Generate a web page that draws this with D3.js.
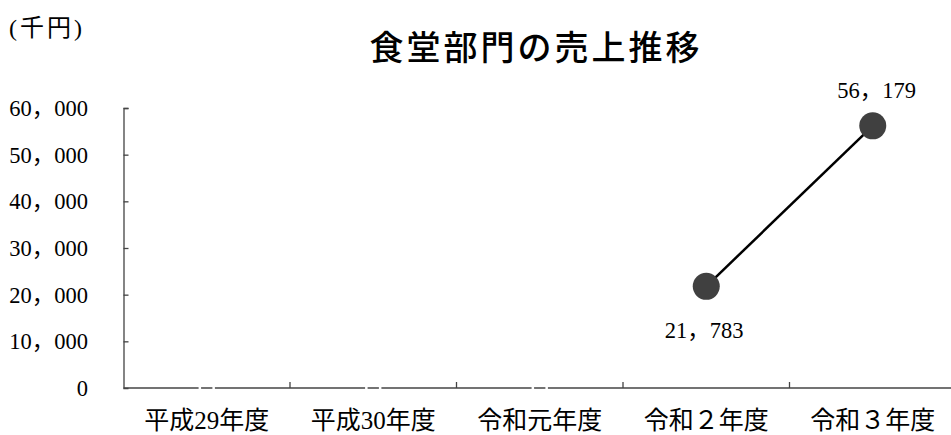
<!DOCTYPE html>
<html><head><meta charset="utf-8">
<script src="https://cdn.jsdelivr.net/npm/d3@7"></script>
<style>
body{margin:0;background:#fff;}
svg{display:block;}
text{fill:#000;}
</style></head>
<body>
<svg id="c" width="951" height="435"></svg>
<script>
const categories = ["平成29年度","平成30年度","令和元年度","令和２年度","令和３年度"];
const sales = [null, null, null, 21783, 56179];
const yTicks = [0,10000,20000,30000,40000,50000,60000];
const title = "食堂部門の売上推移";
const unitLabel = "(千円)";

const svg = d3.select("#c");
const serif = "'Liberation Serif','Noto Sans CJK JP',serif";
const cjk = "'Noto Sans CJK JP','Liberation Serif',sans-serif";
const fmt = v => d3.format(",")(v).replace(",", "，");

const x = d3.scaleBand().domain(categories).range([123.5, 956]);
const y = d3.scaleLinear().domain([0, 60000]).range([388, 108]);

// title & unit
svg.append("text").attr("x", 536).attr("y", 60).attr("text-anchor","middle")
  .style("font-family", cjk).style("font-size","34px").style("font-weight","500")
  .style("letter-spacing","3px").text(title);
svg.append("text").attr("x", 9).attr("y", 36)
  .style("font-family", serif).style("font-size","24px").style("letter-spacing","3px").text(unitLabel);

// y axis
const yAxis = svg.append("g").attr("transform","translate(123.5,0)")
  .call(d3.axisRight(y).tickValues(yTicks).tickSize(5).tickFormat(""));
yAxis.select(".domain").attr("stroke","#444").attr("stroke-width",1.3);
yAxis.selectAll(".tick line").attr("stroke","#444").attr("stroke-width",1.3);
yAxis.selectAll(".tick").filter(d => d === 0).remove();
svg.append("g").selectAll("text").data(yTicks).join("text")
  .attr("x", 88).attr("y", d => y(d)).attr("dy","0.36em").attr("text-anchor","end")
  .style("font-family", serif).style("font-size","22.5px").text(d => d === 0 ? "0" : fmt(d));

// x axis
svg.append("line").attr("x1", 123.5).attr("x2", 956).attr("y1", y(0)).attr("y2", y(0))
  .attr("stroke","#444").attr("stroke-width",1.4);
svg.append("g").selectAll("line").data(categories.slice(1)).join("line")
  .attr("x1", d => x(d)).attr("x2", d => x(d)).attr("y1", y(0)).attr("y2", y(0) - 6)
  .attr("stroke","#444").attr("stroke-width",1.3);
svg.append("g").selectAll("text").data(categories).join("text")
  .attr("x", d => x(d) + x.bandwidth()/2).attr("y", 429).attr("text-anchor","middle")
  .style("font-family", serif).style("font-size","25px").text(d => d);

// hidden (empty) markers
const pts = categories.map((c,i) => ({c, v: sales[i]}));
svg.append("g").selectAll("circle").data(pts.filter(p => p.v === null)).join("circle")
  .attr("cx", p => x(p.c) + x.bandwidth()/2).attr("cy", y(0)).attr("r", 7)
  .attr("fill","none").attr("stroke","#fff").attr("stroke-width",2.5);

// line
const valid = pts.filter(p => p.v !== null);
const line = d3.line().x(p => x(p.c) + x.bandwidth()/2).y(p => y(p.v));
svg.append("path").datum(valid).attr("d", line).attr("fill","none")
  .attr("stroke","#000").attr("stroke-width",2.5);
svg.append("g").selectAll("circle").data(valid).join("circle")
  .attr("cx", p => x(p.c) + x.bandwidth()/2).attr("cy", p => y(p.v)).attr("r", 13.5)
  .attr("fill","#404040");

// data labels
svg.append("g").selectAll("text").data(valid).join("text")
  .attr("x", p => x(p.c) + x.bandwidth()/2 + (p.v > 40000 ? 4 : -2))
  .attr("y", p => p.v > 40000 ? y(p.v) - 28 : y(p.v) + 52)
  .attr("text-anchor","middle")
  .style("font-family", serif).style("font-size","22.5px").text(p => fmt(p.v));
</script>
</body></html>
